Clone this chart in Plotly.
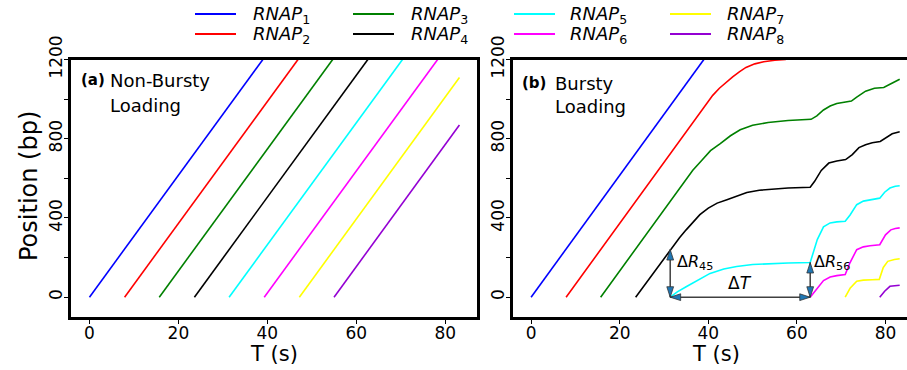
import numpy as np
import plotly.graph_objects as go

W, H = 907, 370
FONT = "DejaVu Sans"

labels = ["1", "2", "3", "4", "5", "6", "7", "8"]
colors = ["#0000ff", "#ff0000", "#008000", "#000000",
          "#00ffff", "#ff00ff", "#ffff00", "#9400d3"]

# (a) Non-bursty loading: constant-speed runs from each loading time
a_t_start = [0.0, 7.9, 15.7, 23.6, 31.4, 39.3, 47.2, 55.0]
a_t_end = [39.0, 46.9, 54.7, 62.6, 70.4, 78.3, 83.2, 83.2]
a_pos_end = [1200, 1200, 1200, 1200, 1200, 1200, 1109, 869]

# (b) Bursty loading: trajectories (time in s, position in bp)
b1_t = [0.0, 39.0]
b1_p = [0, 1200]
b2_t = [7.9, 41.0, 42.5, 44.0, 45.5, 47.0, 48.5, 50.5, 52.5, 55.0, 57.5]
b2_p = [0, 1019, 1055, 1085, 1112, 1138, 1160, 1178, 1189, 1196, 1200]
b3_t = [15.7, 36.5, 38.5, 40.5, 42.7, 45.0, 47.2, 50.0, 53.5, 58.0, 63.2,
        64.5, 66.0, 67.5, 69.0, 71.2, 72.3, 73.5, 75.5, 77.5, 79.6, 81.0, 82.2, 83.2]
b3_p = [0, 641, 690, 740, 775, 815, 845, 868, 882, 892, 898,
        915, 945, 965, 978, 987, 990, 1010, 1040, 1055, 1059, 1075, 1090, 1100]
b4_t = [23.6, 32.2, 33.5, 35.0, 36.5, 38.1, 40.0, 42.0, 44.2, 46.5, 48.7, 51.5,
        54.7, 58.0, 63.0, 64.0, 65.5, 67.2, 69.0, 71.0, 72.5, 74.0, 75.5, 77.0,
        78.8, 80.0, 81.5, 83.2]
b4_p = [0, 265, 300, 340, 380, 417, 450, 475, 492, 512, 529, 540,
        546, 551, 555, 585, 640, 677, 688, 695, 720, 755, 770, 780,
        786, 805, 825, 835]
b5_t = [31.4, 33.0, 35.0, 37.5, 40.4, 43.5, 46.4, 50.0, 54.0, 58.0, 63.0,
        63.8, 64.6, 66.0, 67.5, 69.0, 70.9, 72.0, 73.5, 75.0, 76.5, 78.7,
        79.8, 81.0, 82.2, 83.2]
b5_p = [0, 27, 53, 85, 120, 142, 155, 165, 170, 173, 175,
        235, 291, 355, 375, 380, 383, 415, 467, 485, 492, 500,
        530, 551, 560, 563]
b6_t = [63.0, 64.5, 66.0, 67.5, 69.0, 70.9, 72.0, 73.5, 75.0, 76.5, 78.7,
        80.0, 81.2, 82.2, 83.2]
b6_p = [0, 45, 84, 102, 109, 114, 175, 240, 254, 260, 265,
        315, 340, 347, 350]
b7_t = [70.9, 72.0, 73.5, 75.0, 77.0, 78.6, 79.5, 80.5, 82.0, 83.2]
b7_p = [0, 45, 81, 86, 88, 90, 150, 181, 190, 194]
b8_t = [78.7, 79.8, 81.0, 82.0, 83.2]
b8_p = [0, 30, 55, 58, 60]

b_t = [b1_t, b2_t, b3_t, b4_t, b5_t, b6_t, b7_t, b8_t]
b_p = [b1_p, b2_p, b3_p, b4_p, b5_p, b6_p, b7_p, b8_p]

y_ticks = [0, 200, 400, 600, 800, 1000, 1200]
y_ticktext = ["0", "", "400", "", "800", "", "1200"]
x_ticks = [0, 20, 40, 60, 80]


def px(x):
    return x / W


def py(y):
    return 1 - y / H


fig = go.Figure()

for i in range(8):
    fig.add_trace(go.Scatter(
        x=[a_t_start[i], a_t_end[i]], y=[0, a_pos_end[i]],
        mode="lines", line=dict(color=colors[i], width=1.6),
        xaxis="x", yaxis="y", hoverinfo="skip"))

for i in range(8):
    fig.add_trace(go.Scatter(
        x=b_t[i], y=b_p[i], mode="lines",
        line=dict(color=colors[i], width=1.6),
        xaxis="x2", yaxis="y2", hoverinfo="skip"))

# Double-headed arrows for the spacing measures in (b)
t5 = b5_t[0]
t6 = b6_t[0]
dr45 = float(np.interp(t5, b4_t, b4_p))
dr56 = float(np.interp(t6, b5_t, b5_p))
arrow_line = dict(color="#404040", width=1.5)
arrow_marker = dict(symbol="arrow", size=11, color="#1f77b4", angleref="up",
                    line=dict(color="#333333", width=0.8))
for xs, ys, ang in [([t5, t5], [0, dr45], [180, 0]),
                    ([t6, t6], [0, dr56], [180, 0]),
                    ([t5, t6], [0, 0], [270, 90])]:
    fig.add_trace(go.Scatter(
        x=xs, y=ys, mode="lines+markers", line=arrow_line,
        marker=dict(arrow_marker, angle=ang), cliponaxis=False,
        xaxis="x2", yaxis="y2", hoverinfo="skip"))

axis_common = dict(showline=True, linewidth=2.5, linecolor="black",
                   showgrid=False, zeroline=False, ticks="outside",
                   ticklen=4, tickwidth=1.2, tickcolor="black",
                   automargin=False,
                   tickfont=dict(family=FONT, size=17, color="black"))

x_dom_a = [px(71), px(477)]
x_dom_b = [px(512.7), 1.0]
y_dom = [py(317), py(59.5)]

fig.update_layout(
    width=W, height=H,
    margin=dict(l=0, r=0, t=0, b=0, autoexpand=False),
    paper_bgcolor="white", plot_bgcolor="white",
    showlegend=False,
    xaxis=dict(axis_common, domain=x_dom_a, range=[-4.15, 87.15],
               tickvals=x_ticks, mirror=True, anchor="y",
               ticklabelstandoff=-5),
    yaxis=dict(axis_common, domain=y_dom, range=[-100, 1200],
               tickvals=y_ticks, ticktext=y_ticktext, tickangle=-90,
               mirror=True, anchor="x", ticklabelstandoff=-5),
    xaxis2=dict(axis_common, domain=x_dom_b, range=[-4.15, 84.85],
                tickvals=x_ticks, mirror=True, anchor="y2",
                ticklabelstandoff=-5),
    yaxis2=dict(axis_common, domain=y_dom, range=[-100, 1200],
                tickvals=y_ticks, ticktext=y_ticktext, tickangle=-90,
                mirror=False, anchor="x2", ticklabelstandoff=-5),
)

annotations = []


def text(x, y, s, size, xanchor="left", angle=0, bold=False):
    annotations.append(dict(
        x=px(x), y=py(y), xref="paper", yref="paper", text=s,
        showarrow=False, xanchor=xanchor, yanchor="middle", textangle=angle,
        font=dict(family=FONT, size=size, color="black",
                  weight="bold" if bold else "normal")))


# Legend: two rows, four columns
shapes = []
col_line_x = [195, 353, 514, 670]
col_text_x = [251, 409, 568, 725]
row_y = [14, 34]
for i in range(8):
    c, r = divmod(i, 2)
    shapes.append(dict(type="line", xref="paper", yref="paper",
                       x0=px(col_line_x[c]), x1=px(col_line_x[c] + 41),
                       y0=py(row_y[r]), y1=py(row_y[r]),
                       line=dict(color=colors[i], width=1.8)))
    text(col_text_x[c], row_y[r] + 1, f"<i>RNAP</i><sub>{labels[i]}</sub>", 18)

# Panel labels
text(79, 80, "(a)", 15, bold=True)
text(107.5, 80, "Non-Bursty", 18)
text(107.5, 105, "Loading", 18)
text(520, 83, "(b)", 15, bold=True)
text(553, 83, "Bursty", 18)
text(553, 106.5, "Loading", 18)

# Axis titles
text(29, 186, "Position (bp)", 24, xanchor="center", angle=-90)
text(274, 354, "T (s)", 21, xanchor="center")
text(716, 354, "T (s)", 21, xanchor="center")

# Arrow labels
annotations.append(dict(x=t5, y=dr45 * 0.72, xref="x2", yref="y2",
                        text="Δ<i>R</i><sub>45</sub>", showarrow=False,
                        xanchor="left", xshift=5,
                        font=dict(family=FONT, size=16, color="black")))
annotations.append(dict(x=t6, y=dr56, xref="x2", yref="y2",
                        text="Δ<i>R</i><sub>56</sub>", showarrow=False,
                        xanchor="left", xshift=2,
                        font=dict(family=FONT, size=16, color="black")))
annotations.append(dict(x=(t5 + t6) / 2, y=0, xref="x2", yref="y2",
                        text="Δ<i>T</i>", showarrow=False,
                        yanchor="bottom", yshift=2,
                        font=dict(family=FONT, size=17, color="black")))

fig.update_layout(annotations=annotations, shapes=shapes)
fig.write_html("out.html")
